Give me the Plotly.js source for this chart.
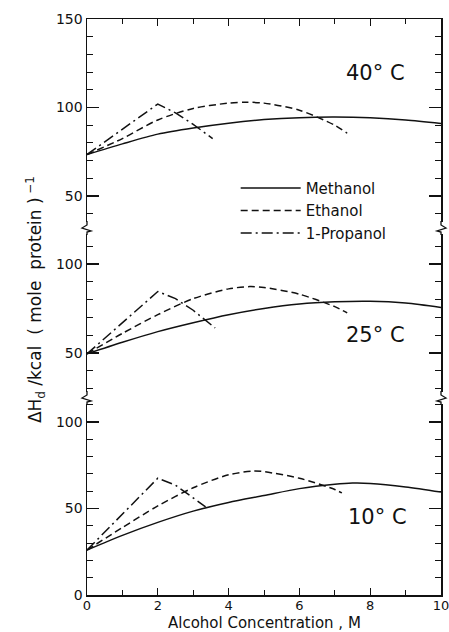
<!DOCTYPE html>
<html><head><meta charset="utf-8">
<script src="https://cdn.plot.ly/plotly-3.0.1.min.js"></script>
<style>html,body{margin:0;padding:0;background:#fff}#c{width:449px;height:632px}</style>
</head><body><div id="c"></div>
<script>
// 40 °C panel
const meth40_x = [0,1,2,3,4,5,6,7,8,9,10];
const meth40_y = [73.5,79.5,85,88.5,91.2,93.2,94.3,94.6,94.2,93,91];
const eth40_x = [0,1,2,3,4,4.5,5,6,7,7.35];
const eth40_y = [73.5,82.5,93,99.5,102.5,103,102.5,98.5,90,85.5];
const prop40_x = [0,1,2,2.5,3,3.55];
const prop40_y = [73.5,87.5,102,97,90.5,82.5];
// 25 °C panel
const meth25_x = [0,1,2,3,4,5,6,7,8,9,10];
const meth25_y = [49.5,56,62,67,71.5,75,77.5,78.7,79,78,75.5];
const eth25_x = [0,1,2,3,4,4.6,5,6,7,7.35];
const eth25_y = [49.5,61,71.5,80.5,86,87.3,86.8,83,76,72.5];
const prop25_x = [0,1,2,2.5,3,3.62];
const prop25_y = [49.5,67,84.5,80.5,74,64];
// 10 °C panel
const meth10_x = [0,1,2,3,4,5,6,7,7.5,8,9,10];
const meth10_y = [26,34.5,42,48.5,53.5,57.5,61.5,64,64.7,64.5,62.5,59.5];
const eth10_x = [0,1,2,3,4,4.7,5,6,7,7.2];
const eth10_y = [26,39,51.5,62,69.5,71.7,71.3,67.5,61,59];
const prop10_x = [0,1,2,2.5,3,3.35];
const prop10_y = [26,47,67.5,63.5,56,51];

const names = ['Methanol','Ethanol','1-Propanol'];
const panelLabels = ['40° C','25° C','10° C'];
const xTickVals = [0,2,4,6,8,10];

const F = 'DejaVu Sans, sans-serif';
const dashes = ['solid','7px,4px','11px,4px,2px,4px'];

function tr(x,y,i,xa,ya,leg){
  return {x:x,y:y,xaxis:xa,yaxis:ya,type:'scatter',mode:'lines',name:names[i],
    showlegend:leg,hoverinfo:'skip',
    line:{color:'#111',width:1.5,dash:dashes[i],shape:i===2?'linear':'spline',smoothing:0.8}};
}
const data = [
  tr(meth40_x,meth40_y,0,'x2','y3',true),
  tr(eth40_x,eth40_y,1,'x2','y3',true),
  tr(prop40_x,prop40_y,2,'x2','y3',true),
  tr(meth25_x,meth25_y,0,'x','y2',false),
  tr(eth25_x,eth25_y,1,'x','y2',false),
  tr(prop25_x,prop25_y,2,'x','y2',false),
  tr(meth10_x,meth10_y,0,'x','y',false),
  tr(eth10_x,eth10_y,1,'x','y',false),
  tr(prop10_x,prop10_y,2,'x','y',false)
];

const yBase = {showline:true,linecolor:'#111',linewidth:1.5,mirror:'ticks',ticks:'inside',ticklen:12,tickwidth:1.5,tickcolor:'#111',
  minor:{dtick:10,ticks:'inside',ticklen:6,tickwidth:1,tickcolor:'#111'},
  showgrid:false,zeroline:false,tickfont:{family:F,size:14,color:'#111'},fixedrange:true};
const xBase = {range:[0,10],showline:true,linecolor:'#111',linewidth:1.5,ticks:'inside',ticklen:7,tickwidth:1.2,tickcolor:'#111',
  tickvals:xTickVals,minor:{dtick:1,ticks:'inside',ticklen:5,tickwidth:1,tickcolor:'#111'},ticklabeloverflow:'allow',
  ticklabelstandoff:-2,
  showgrid:false,zeroline:false,tickfont:{family:F,size:13,color:'#111'},fixedrange:true};

const d1=197/576, d2=367/576;

function zig(xa,ya,right){
  const s = right?-1:1;
  return [
    {type:'path',xref:'paper',yref:'paper',xsizemode:'pixel',ysizemode:'pixel',xanchor:xa,yanchor:ya,
     path:'M0,6 L0,-6',line:{color:'#fff',width:4},layer:'above'},
    {type:'path',xref:'paper',yref:'paper',xsizemode:'pixel',ysizemode:'pixel',xanchor:xa,yanchor:ya,
     path:`M0,7 L0,3 L${-5*s},0 L${4*s},-3 L0,-4 L0,-7`,line:{color:'#111',width:1.3},layer:'above'}
  ];
}

const layout = {
  width:449,height:632,margin:{l:87,r:8,t:19,b:37},
  paper_bgcolor:'#fff',plot_bgcolor:'#fff',
  font:{family:F,color:'#111'},
  xaxis:Object.assign({},xBase,{anchor:'y'}),
  xaxis2:Object.assign({},xBase,{anchor:'y3',side:'top',matches:'x',showticklabels:false}),
  yaxis:Object.assign({},yBase,{domain:[0,d1],range:[0,113.9],anchor:'x',tickvals:[0,50,100]}),
  yaxis2:Object.assign({},yBase,{domain:[d1,d2],range:[24.7,120.2],anchor:'x',tickvals:[50,100]}),
  yaxis3:Object.assign({},yBase,{domain:[d2,1],range:[32,150],anchor:'x2',tickvals:[50,100,150]}),
  showlegend:true,
  legend:{x:0.42,y:0.735,xanchor:'left',yanchor:'top',bgcolor:'rgba(0,0,0,0)',
    font:{family:F,size:15,color:'#111'},itemwidth:60,tracegroupgap:0},
  annotations:[
    {xref:'paper',yref:'paper',x:0.5,y:-28/576,xanchor:'center',yanchor:'middle',showarrow:false,
     text:'Alcohol Concentration , M',font:{family:F,size:15,color:'#111'}},
    {xref:'paper',yref:'paper',x:-52/354,y:0.512,xanchor:'center',yanchor:'middle',textangle:-90,showarrow:false,
     text:'ΔH<sub>d</sub> /kcal  ( mole  protein )<sup> −1</sup>',font:{family:F,size:17,color:'#111'}},
    {xref:'x2',yref:'y3',x:8.16,y:119.5,text:panelLabels[0],showarrow:false,font:{family:F,size:21,color:'#111'}},
    {xref:'x',yref:'y2',x:8.14,y:60,text:panelLabels[1],showarrow:false,font:{family:F,size:21,color:'#111'}},
    {xref:'x',yref:'y',x:8.2,y:45,text:panelLabels[2],showarrow:false,font:{family:F,size:21,color:'#111'}}
  ],
  shapes:[].concat(zig(0,d1,false),zig(0,d2,false),zig(1,d1,true),zig(1,d2,true))
};

Plotly.newPlot('c',data,layout,{displayModeBar:false,staticPlot:true});
</script></body></html>
